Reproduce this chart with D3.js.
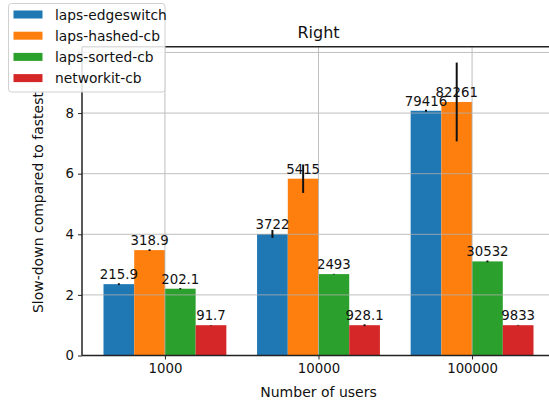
<!DOCTYPE html>
<html>
<head>
<meta charset="utf-8">
<script src="https://cdn.jsdelivr.net/npm/d3@7"></script>
<style>
  html, body { margin: 0; padding: 0; background: #fff; }
  svg { display: block; font-family: "DejaVu Sans", sans-serif; }
</style>
</head>
<body>
<svg id="chart" width="549" height="401"></svg>
<script>
// Groups on the x axis
const categories = ["1000", "10000", "100000"];
// Implementations compared
const seriesNames = ["laps-edgeswitch", "laps-hashed-cb", "laps-sorted-cb", "networkit-cb"];
const seriesColors = ["#1f77b4", "#ff7f0e", "#2ca02c", "#d62728"];
// Mean run times per implementation, one value per group (printed above the bars)
const edgeswitchTime = [215.9, 3722, 79416];
const hashedTime = [318.9, 5415, 82261];
const sortedTime = [202.1, 2493, 30532];
const networkitTime = [91.7, 928.1, 9833];
const timeLabels = [
  ["215.9", "3722", "79416"],
  ["318.9", "5415", "82261"],
  ["202.1", "2493", "30532"],
  ["91.7", "928.1", "9833"]
];
// Spread of the slow-down factor (error bar half-length)
const edgeswitchErr = [0.03, 0.13, 0.03];
const hashedErr = [0.03, 0.47, 1.30];
const sortedErr = [0.02, 0.01, 0.03];
const networkitErr = [0.01, 0.03, 0.01];
const yTicks = [0, 2, 4, 6, 8, 10];
// The "10" label sits under the legend box
const yTickLabels = ["0", "2", "4", "6", "8", ""];

const times = [edgeswitchTime, hashedTime, sortedTime, networkitTime];
const errs = [edgeswitchErr, hashedErr, sortedErr, networkitErr];
// Slow-down relative to the fastest implementation in each group
const fastest = categories.map((c, i) => d3.min(times, t => t[i]));

const svg = d3.select("#chart");
const plotLeft = 82, plotRight = 555, plotTop = 46.7, plotBottom = 355.5;

const x = d3.scaleLinear().domain([-0.54, 2.54]).range([plotLeft, plotRight]);
const xs = d3.scaleBand().domain(seriesNames).range([-0.4, 0.4]);
const y = d3.scaleLinear().domain([0, 10.19]).range([plotBottom, plotTop]);

const bars = [];
seriesNames.forEach((s, si) => {
  categories.forEach((c, ci) => {
    const v = times[si][ci] / fastest[ci];
    bars.push({s, si, ci, v, err: errs[si][ci], label: timeLabels[si][ci]});
  });
});
const barLeft = d => x(d.ci + xs(d.s));
const barMid = d => x(d.ci + xs(d.s) + xs.bandwidth() / 2);

// Bars
svg.append("g").selectAll("rect").data(bars).join("rect")
  .attr("x", barLeft)
  .attr("width", d => x(d.ci + xs(d.s) + xs.bandwidth()) - barLeft(d))
  .attr("y", d => y(d.v))
  .attr("height", d => y(0) - y(d.v))
  .attr("fill", d => seriesColors[d.si]);

// Grid lines (drawn over the bars)
const grid = svg.append("g").attr("stroke", "#b0b0b0").attr("stroke-width", 1).attr("opacity", 0.8);
grid.selectAll(".gy").data(yTicks).join("line")
  .attr("x1", plotLeft).attr("x2", plotRight)
  .attr("y1", d => y(d)).attr("y2", d => y(d));
grid.selectAll(".gx").data(categories).join("line")
  .attr("x1", (d, i) => x(i)).attr("x2", (d, i) => x(i))
  .attr("y1", plotTop).attr("y2", plotBottom);

// Error bars
svg.append("g").selectAll("line").data(bars).join("line")
  .attr("x1", barMid).attr("x2", barMid)
  .attr("y1", d => y(d.v - d.err))
  .attr("y2", d => y(d.v + d.err))
  .attr("stroke", "#111").attr("stroke-width", 2);

// Value labels
svg.append("g").selectAll("text").data(bars).join("text")
  .attr("x", barMid)
  .attr("y", d => y(d.v) - 5)
  .attr("text-anchor", "middle")
  .attr("font-size", 13.3)
  .attr("fill", "#111")
  .text(d => d.label);

// Axes
const xAxis = d3.axisBottom(x).tickValues([0, 1, 2]).tickFormat(i => categories[i]).tickSize(4).tickPadding(4);
const yAxis = d3.axisLeft(y).tickValues(yTicks).tickFormat((d, i) => yTickLabels[i]).tickSize(4).tickPadding(4);

const gx = svg.append("g").attr("transform", `translate(0,${plotBottom})`).call(xAxis);
const gy = svg.append("g").attr("transform", `translate(${plotLeft},0)`).call(yAxis);
[gx, gy].forEach(g => {
  g.select(".domain").remove();
  g.selectAll("text").attr("font-size", 13.3).attr("fill", "#111").attr("font-family", "DejaVu Sans, sans-serif");
  g.selectAll("line").attr("stroke", "#222");
});

// Spines
const spines = svg.append("g").attr("stroke", "#222").attr("stroke-width", 1.5).attr("fill", "none");
spines.append("line").attr("x1", plotLeft).attr("x2", plotRight).attr("y1", plotBottom).attr("y2", plotBottom);
spines.append("line").attr("x1", plotLeft).attr("x2", plotRight).attr("y1", plotTop).attr("y2", plotTop);
spines.append("line").attr("x1", plotLeft).attr("x2", plotLeft).attr("y1", plotTop).attr("y2", plotBottom);
spines.append("line").attr("x1", plotRight).attr("x2", plotRight).attr("y1", plotTop).attr("y2", plotBottom);

// Title and axis labels
svg.append("text").attr("x", (plotLeft + plotRight) / 2).attr("y", 37.5)
  .attr("text-anchor", "middle").attr("font-size", 16).attr("fill", "#111").text("Right");
svg.append("text").attr("x", (plotLeft + plotRight) / 2).attr("y", 396.5)
  .attr("text-anchor", "middle").attr("font-size", 14).attr("fill", "#111").text("Number of users");
svg.append("text")
  .attr("transform", `translate(43,${(plotTop + plotBottom) / 2 + 1.5}) rotate(-90)`)
  .attr("text-anchor", "middle").attr("font-size", 14).attr("fill", "#111")
  .text("Slow-down compared to fastest");

// Legend
const legend = svg.append("g");
legend.append("rect").attr("x", 8.5).attr("y", 3.5).attr("width", 156.5).attr("height", 88.5)
  .attr("rx", 3).attr("fill", "#fff").attr("fill-opacity", 0.85)
  .attr("stroke", "#d0d0d0").attr("stroke-width", 1);
const rows = legend.selectAll(".row").data(seriesNames).join("g")
  .attr("transform", (d, i) => `translate(0,${14.5 + i * 21.2})`);
rows.append("rect").attr("x", 13.5).attr("y", -4).attr("width", 29).attr("height", 8)
  .attr("fill", (d, i) => seriesColors[i]);
rows.append("text").attr("x", 55).attr("y", 5).attr("font-size", 13.8).attr("fill", "#111").text(d => d);
</script>
</body>
</html>
